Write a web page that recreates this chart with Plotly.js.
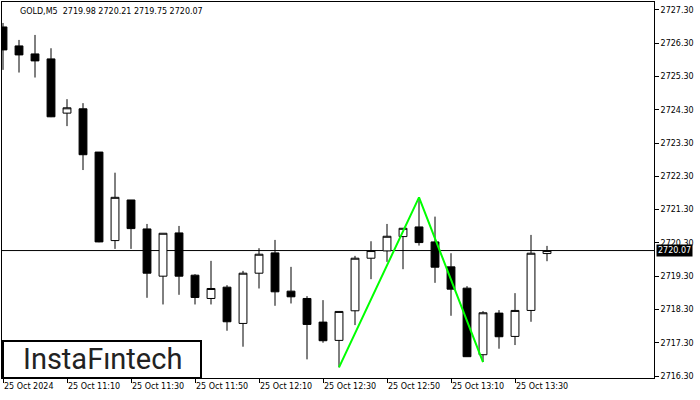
<!DOCTYPE html>
<html>
<head>
<meta charset="utf-8">
<script src="https://cdn.plot.ly/plotly-3.0.1.min.js"></script>
<style>
html,body{margin:0;padding:0;background:#fff;}
#chart{width:700px;height:400px;}
</style>
</head>
<body>
<div id="chart"></div>
<script>
// ---- data ----
const symbol = 'GOLD,M5';
const times = [
  '2024-10-25 10:50','2024-10-25 10:55','2024-10-25 11:00','2024-10-25 11:05','2024-10-25 11:10',
  '2024-10-25 11:15','2024-10-25 11:20','2024-10-25 11:25','2024-10-25 11:30','2024-10-25 11:35',
  '2024-10-25 11:40','2024-10-25 11:45','2024-10-25 11:50','2024-10-25 11:55','2024-10-25 12:00',
  '2024-10-25 12:05','2024-10-25 12:10','2024-10-25 12:15','2024-10-25 12:20','2024-10-25 12:25',
  '2024-10-25 12:30','2024-10-25 12:35','2024-10-25 12:40','2024-10-25 12:45','2024-10-25 12:50',
  '2024-10-25 12:55','2024-10-25 13:00','2024-10-25 13:05','2024-10-25 13:10','2024-10-25 13:15',
  '2024-10-25 13:20','2024-10-25 13:25','2024-10-25 13:30','2024-10-25 13:35','2024-10-25 13:40'
];
const opens = [2726.79,2726.22,2725.98,2725.83,2724.20,2724.33,2723.03,2720.37,2721.59,2720.72,
  2719.30,2720.60,2719.33,2718.63,2718.97,2717.88,2719.39,2720.00,2718.85,2718.63,
  2717.92,2717.37,2718.26,2719.84,2720.06,2720.49,2720.78,2720.33,2719.58,2718.94,
  2716.94,2718.19,2717.49,2718.27,2719.98];
const highs = [2726.91,2726.40,2726.55,2726.15,2724.62,2724.50,2723.03,2722.41,2721.59,2720.87,
  2720.59,2720.81,2719.36,2719.76,2719.03,2719.46,2720.14,2720.39,2719.58,2718.70,
  2718.58,2718.24,2719.91,2720.35,2720.87,2720.74,2721.67,2721.09,2719.99,2719.00,
  2718.25,2718.28,2718.79,2720.54,2720.21];
const lows = [2725.50,2725.42,2725.27,2724.08,2723.81,2722.49,2720.32,2720.12,2720.12,2718.65,
  2718.45,2718.74,2718.45,2718.45,2717.66,2717.18,2718.93,2718.41,2718.48,2716.80,
  2717.30,2716.56,2717.83,2719.21,2719.73,2719.51,2720.22,2719.10,2718.11,2716.88,
  2716.72,2717.12,2717.23,2717.93,2719.75];
const closes = [2726.10,2725.95,2725.77,2724.09,2724.36,2722.95,2720.33,2721.67,2720.73,2719.39,
  2720.59,2719.30,2718.66,2718.93,2717.93,2719.39,2719.96,2718.83,2718.68,2717.85,
  2717.36,2718.24,2719.84,2720.07,2720.50,2720.74,2720.31,2719.57,2718.91,2716.88,
  2718.20,2717.48,2718.27,2719.99,2720.07];
// pattern (double top) pivot candles: low, high, low
const patternIdx = [21, 26, 30];
const patternKind = ['low', 'high', 'low'];
const xTickTimes = ['2024-10-25 10:50','2024-10-25 11:10','2024-10-25 11:30','2024-10-25 11:50',
  '2024-10-25 12:10','2024-10-25 12:30','2024-10-25 12:50','2024-10-25 13:10','2024-10-25 13:30'];
const xTickLabels = ['25 Oct 2024','25 Oct 11:10','25 Oct 11:30','25 Oct 11:50',
  '25 Oct 12:10','25 Oct 12:30','25 Oct 12:50','25 Oct 13:10','25 Oct 13:30'];
const yTickValues = [2716.30,2717.30,2718.30,2719.30,2720.30,2721.30,2722.30,2723.30,2724.30,2725.30,2726.30,2727.30];
const brand = 'InstaF\u0131ntech';

// ---- chart ----
const last = closes.length - 1;
const font = 'DejaVu Sans, sans-serif';

const candles = {
  type: 'candlestick', x: times, open: opens, high: highs, low: lows, close: closes,
  increasing: {line: {color: '#000', width: 1}, fillcolor: '#fff'},
  decreasing: {line: {color: '#000', width: 1}, fillcolor: '#000'},
  whiskerwidth: 0, hoverinfo: 'skip', showlegend: false
};
const pattern = {
  type: 'scatter', mode: 'lines',
  x: patternIdx.map(i => times[i]),
  y: patternIdx.map((i, k) => patternKind[k] === 'low' ? lows[i] : highs[i]),
  line: {color: '#00ff00', width: 2}, hoverinfo: 'skip', showlegend: false
};

const L = 2, R = 46, T = 2, B = 22, W = 700, H = 400;
const pw = W - L - R, ph = H - T - B;
const px = v => (v - L) / pw;
const py = v => (H - B - v) / ph;

const layout = {
  width: W, height: H,
  margin: {l: L, r: R, t: T, b: B, pad: 0},
  paper_bgcolor: '#fff', plot_bgcolor: '#fff',
  showlegend: false,
  font: {family: font, size: 8, color: '#000'},
  xaxis: {
    type: 'date',
    range: ['2024-10-25 10:49:41', '2024-10-25 14:13:26'],
    rangeslider: {visible: false},
    showgrid: false, zeroline: false,
    showline: true, linecolor: '#000', linewidth: 1, mirror: true,
    ticks: 'outside', ticklen: 4, tickcolor: '#000', tickwidth: 1,
    tickmode: 'array', tickvals: xTickTimes, ticktext: xTickLabels,
    ticklabelposition: 'outside right',
    tickfont: {family: font, size: 8, color: '#000'},
    fixedrange: true
  },
  yaxis: {
    side: 'right',
    range: [2716.24, 2727.54],
    showgrid: false, zeroline: false,
    showline: true, linecolor: '#000', linewidth: 1, mirror: true,
    ticks: 'outside', ticklen: 4, tickcolor: '#000', tickwidth: 1,
    tickmode: 'array', tickvals: yTickValues, ticktext: yTickValues.map(v => v.toFixed(2)),
    tickfont: {family: font, size: 8, color: '#000'},
    fixedrange: true
  },
  shapes: [
    {type: 'line', xref: 'paper', x0: 0, x1: 1, yref: 'y', y0: closes[last], y1: closes[last],
     line: {color: '#000', width: 1}, layer: 'below'},
    {type: 'rect', xref: 'paper', yref: 'paper', x0: px(3), x1: px(201), y0: py(378), y1: py(341),
     line: {color: '#000', width: 2}, fillcolor: '#fff', layer: 'above'}
  ],
  annotations: [
    {xref: 'paper', yref: 'paper', x: px(18), y: py(12), xanchor: 'left', yanchor: 'middle',
     text: symbol + '\u00a0\u00a0' + [opens[last], highs[last], lows[last], closes[last]].map(v => v.toFixed(2)).join(' '),
     showarrow: false, font: {family: font, size: 8, color: '#000'}},
    {xref: 'paper', yref: 'y', x: 1, y: closes[last], xanchor: 'left', yanchor: 'middle', xshift: 2,
     text: closes[last].toFixed(2), showarrow: false, bgcolor: '#000', borderpad: 1,
     font: {family: font, size: 8, color: '#fff'}},
    {xref: 'paper', yref: 'paper', x: px(102), y: py(359), xanchor: 'center', yanchor: 'middle',
     text: brand, showarrow: false, font: {family: 'Roboto, sans-serif', size: 29, color: '#222', weight: 400}}
  ]
};

Plotly.newPlot('chart', [candles, pattern], layout, {displayModeBar: false, staticPlot: true});
</script>
</body>
</html>
